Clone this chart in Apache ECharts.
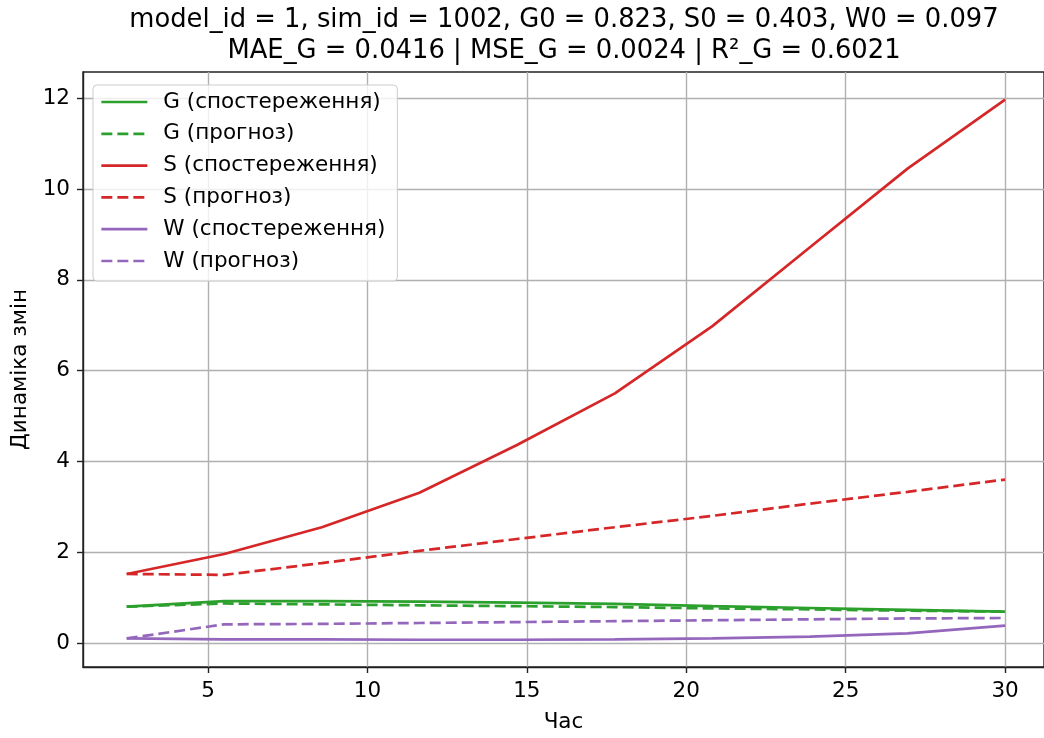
<!DOCTYPE html>
<html>
<head>
<meta charset="utf-8">
<script src="https://cdn.jsdelivr.net/npm/echarts@6/dist/echarts.min.js"></script>
<style>
  html, body { margin: 0; padding: 0; background: #fff; }
  #chart { width: 1044px; height: 738px; }
</style>
</head>
<body>
<div id="chart"></div>
<script>
// час (x) для всіх рядів
var t = [2.45, 5.51, 8.57, 11.63, 14.69, 17.76, 20.82, 23.88, 26.94, 30.0];

var G_obs  = [0.80, 0.92, 0.92, 0.91, 0.89, 0.86, 0.81, 0.77, 0.73, 0.69];
var G_pred = [0.80, 0.87, 0.85, 0.83, 0.81, 0.79, 0.76, 0.74, 0.71, 0.69];
var S_obs  = [1.52, 1.96, 2.55, 3.31, 4.36, 5.50, 6.98, 8.72, 10.45, 11.97];
var S_pred = [1.52, 1.50, 1.76, 2.03, 2.29, 2.55, 2.80, 3.07, 3.33, 3.60];
var W_obs  = [0.10, 0.08, 0.08, 0.07, 0.07, 0.08, 0.10, 0.14, 0.21, 0.38];
var W_pred = [0.10, 0.41, 0.42, 0.44, 0.46, 0.48, 0.50, 0.52, 0.54, 0.55];

var xTicks = [5, 10, 15, 20, 25, 30];
var yTicks = [0, 2, 4, 6, 8, 10, 12];

var titleText = 'model_id = 1, sim_id = 1002, G0 = 0.823, S0 = 0.403, W0 = 0.097\n' +
                'MAE_G = 0.0416 | MSE_G = 0.0024 | R²_G = 0.6021';

var FONT = '"DejaVu Sans", sans-serif';
var FS = 21.5;
var GREEN = '#2ca02c', RED = '#d62728', PURPLE = '#9467bd';

function pairs(ys) {
  return t.map(function (x, i) { return [x, ys[i]]; });
}

function mkSeries(name, ys, color, dashed) {
  return {
    name: name,
    type: 'line',
    data: pairs(ys),
    symbol: 'none',
    showSymbol: false,
    lineStyle: {
      color: color,
      width: 2.7,
      type: dashed ? [11, 5] : 'solid'
    },
    itemStyle: { color: color },
    emphasis: { disabled: true }
  };
}

var chart = echarts.init(document.getElementById('chart'), null, { renderer: 'canvas' });

var option = {
  animation: false,
  backgroundColor: '#fff',
  textStyle: { fontFamily: FONT },
  title: {
    text: titleText,
    left: 564,
    top: 5,
    padding: 0,
    textAlign: 'center',
    textStyle: {
      fontFamily: FONT,
      fontSize: 25.8,
      fontWeight: 'normal',
      color: '#000',
      lineHeight: 31
    }
  },
  grid: {
    left: 83,
    right: 0,
    top: 72,
    bottom: 65,
    show: true,
    borderColor: '#222',
    borderWidth: 1.4,
    containLabel: false
  },
  legend: {
    orient: 'vertical',
    left: 93,
    top: 85,
    padding: [6, 12, 9, 7],
    itemWidth: 46,
    itemHeight: 14,
    itemGap: 9.8,
    backgroundColor: 'rgba(255,255,255,0.8)',
    borderColor: '#cccccc',
    borderWidth: 1,
    borderRadius: 4,
    lineStyle: { width: 2.7 },
    itemStyle: { opacity: 0, color: 'transparent', borderColor: 'transparent', borderWidth: 0 },
    textStyle: {
      fontFamily: FONT,
      fontSize: FS,
      lineHeight: 22,
      color: '#000',
      padding: [0, 0, 0, 11]
    },
    data: ['G (спостереження)', 'G (прогноз)', 'S (спостереження)',
           'S (прогноз)', 'W (спостереження)', 'W (прогноз)']
  },
  xAxis: {
    type: 'value',
    min: 1.079,
    max: 31.22,
    name: 'Час',
    nameLocation: 'middle',
    nameGap: 44,
    nameTextStyle: { fontFamily: FONT, fontSize: FS, color: '#000' },
    axisLine: { show: true, onZero: false, lineStyle: { color: '#222', width: 1.4 } },
    axisTick: { show: true, length: 6, customValues: xTicks, lineStyle: { color: '#222', width: 1.4 } },
    axisLabel: { customValues: xTicks, margin: 13, fontFamily: FONT, fontSize: FS, color: '#000' },
    splitLine: { show: true, lineStyle: { color: '#b0b0b0', width: 1.4 } }
  },
  yAxis: {
    type: 'value',
    min: -0.53,
    max: 12.58,
    name: 'Динаміка змін',
    nameLocation: 'middle',
    nameGap: 50,
    nameRotate: 90,
    nameTextStyle: { fontFamily: FONT, fontSize: FS, color: '#000' },
    axisLine: { show: true, onZero: false, lineStyle: { color: '#222', width: 1.4 } },
    axisTick: { show: true, length: 6, customValues: yTicks, lineStyle: { color: '#222', width: 1.4 } },
    axisLabel: { customValues: yTicks, margin: 13, fontFamily: FONT, fontSize: FS, color: '#000' },
    splitLine: { show: true, lineStyle: { color: '#b0b0b0', width: 1.4 } }
  },
  series: [
    mkSeries('G (спостереження)', G_obs, GREEN, false),
    mkSeries('G (прогноз)', G_pred, GREEN, true),
    mkSeries('S (спостереження)', S_obs, RED, false),
    mkSeries('S (прогноз)', S_pred, RED, true),
    mkSeries('W (спостереження)', W_obs, PURPLE, false),
    mkSeries('W (прогноз)', W_pred, PURPLE, true)
  ]
};

chart.setOption(option);
</script>
</body>
</html>
